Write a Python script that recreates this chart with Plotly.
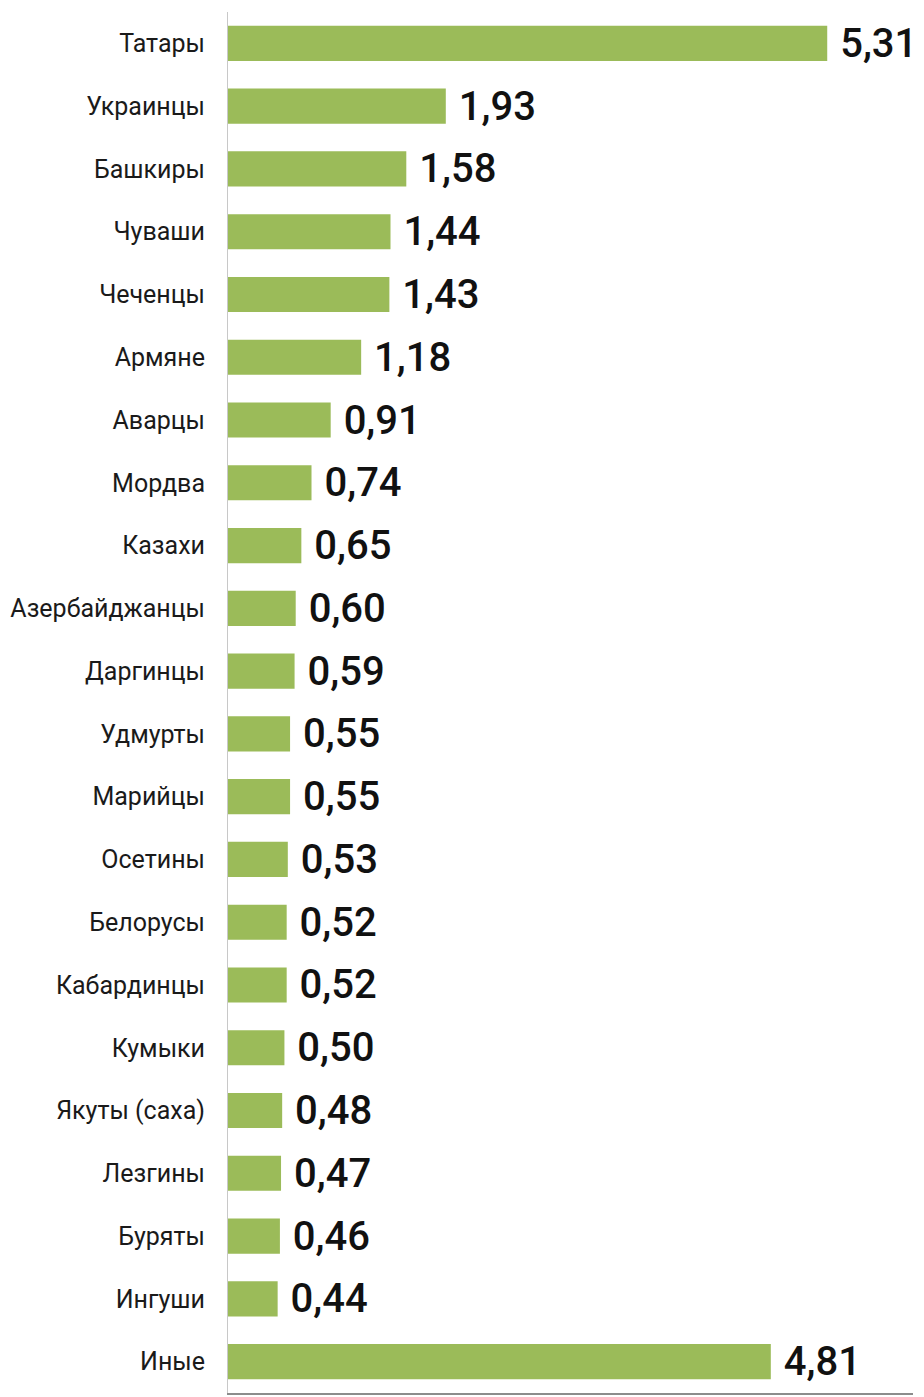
import plotly.graph_objects as go

categories = ["Татары", "Украинцы", "Башкиры", "Чуваши", "Чеченцы", "Армяне", "Аварцы",
              "Мордва", "Казахи", "Азербайджанцы", "Даргинцы", "Удмурты", "Марийцы",
              "Осетины", "Белорусы", "Кабардинцы", "Кумыки", "Якуты (саха)", "Лезгины",
              "Буряты", "Ингуши", "Иные"]
values = [5.31, 1.93, 1.58, 1.44, 1.43, 1.18, 0.91, 0.74, 0.65, 0.60, 0.59, 0.55, 0.55,
          0.53, 0.52, 0.52, 0.50, 0.48, 0.47, 0.46, 0.44, 4.81]
labels = [" " + f"{v:.2f}".replace(".", ",") for v in values]

FONT = "Roboto, Liberation Sans, sans-serif"

fig = go.Figure(go.Bar(
    x=values, y=categories, orientation="h",
    marker=dict(color="#9BBB59", line=dict(width=0)),
    text=labels, textposition="outside", cliponaxis=False, constraintext="none",
    textfont=dict(family=FONT, size=40, color="#111111", weight=500),
    width=0.56,
))

# page body has an 8px default margin, so the figure is sized/offset to compensate
fig.update_layout(
    width=916, height=1389,
    margin=dict(l=220, r=11, t=4, b=4),
    paper_bgcolor="white", plot_bgcolor="white",
    showlegend=False,
    bargap=0.44,
    xaxis=dict(range=[0, 6.07], showticklabels=False, showgrid=False, zeroline=False,
               showline=True, linecolor="#8c8c8c", linewidth=2, ticks="", automargin=False),
    yaxis=dict(autorange="reversed", showgrid=False, zeroline=False, showline=True,
               linecolor="#c8c8c8", linewidth=1, ticks="", ticklabelstandoff=17,
               automargin=False,
               tickfont=dict(family=FONT, size=25, color="#1a1a1a")),
)

fig.write_html("out.html")
